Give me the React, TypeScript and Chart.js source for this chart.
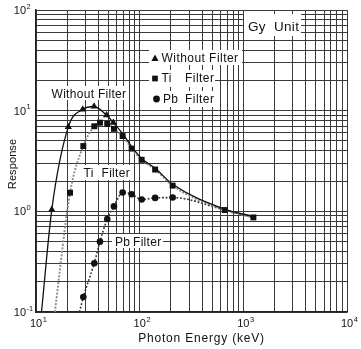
import React, { useEffect, useRef } from "react";
import { Chart, registerables } from "chart.js";

Chart.register(...registerables);

// ---------- data ----------
const seriesNames = ["Without Filter", "Ti Filter", "Pb Filter"];
const unitLabel = "Gy Unit";
const xTitle = "Photon Energy (keV)";
const yTitle = "Response";

const xDecadeExps = [1, 2, 3, 4];
const yDecadeExps = [-1, 0, 1, 2];

// first value of each curve = where the curve leaves the bottom edge (no marker)
const withoutEnergy = [11.3, 14.2, 20.5, 28.2, 36.3, 48.0, 55.7, 68.5, 83.7, 104.5, 141, 208, 662, 1250];
const withoutResponse = [0.1, 1.04, 6.9, 10.3, 11.0, 9.0, 7.6, 5.9, 4.4, 3.35, 2.68, 1.86, 1.05, 0.89];
const withoutMarkerRange = [1, 7];

const tiEnergy = [15.2, 21.3, 28.6, 36.5, 41.4, 48.7, 56.5, 68.5, 83.7, 104.5, 141, 208, 662, 1250];
const tiResponse = [0.1, 1.53, 4.45, 7.0, 7.6, 7.4, 6.6, 5.6, 4.2, 3.25, 2.6, 1.8, 1.03, 0.87];
const tiMarkerRange = [1, 14];

const pbEnergy = [26.3, 28.6, 36.5, 41.4, 48.7, 56.5, 68.5, 83.7, 104.5, 141, 208, 662, 1250];
const pbResponse = [0.1, 0.141, 0.305, 0.5, 0.84, 1.12, 1.54, 1.48, 1.31, 1.36, 1.37, 1.03, 0.87];
const pbMarkerRange = [1, 11];

// ---------- helpers ----------
const FONT = "'Liberation Sans', Arial, Helvetica, sans-serif";

const pts = (xs: number[], ys: number[]) => xs.map((x, i) => ({ x, y: ys[i] }));

const gridValues = (exps: number[]) => {
  const out: number[] = [];
  for (let i = 0; i < exps.length - 1; i++) {
    for (let m = 1; m <= 9; m++) out.push(m * Math.pow(10, exps[i]));
  }
  out.push(Math.pow(10, exps[exps.length - 1]));
  return out;
};

function txt(ctx: any, s: string, x: number, y: number, size: number, spacing = 0, align = "left") {
  ctx.font = `${size}px ${FONT}`;
  ctx.letterSpacing = `${spacing}px`;
  ctx.textAlign = align;
  ctx.textBaseline = "alphabetic";
  ctx.fillText(s, x, y);
  ctx.letterSpacing = "0px";
}

function pow10(ctx: any, exp: number, x: number, y: number, anchor: "center" | "right") {
  ctx.font = `11px ${FONT}`;
  ctx.textAlign = "left";
  ctx.textBaseline = "alphabetic";
  const w = ctx.measureText("10").width;
  const left = anchor === "center" ? x - w / 2 : x - w;
  ctx.fillText("10", left, y);
  ctx.font = `7.5px ${FONT}`;
  ctx.fillText(String(exp), left + w + 0.6, y - 5.5);
}

function marker(ctx: any, kind: string, x: number, y: number, r: number) {
  ctx.beginPath();
  if (kind === "triangle") {
    ctx.moveTo(x, y - r);
    ctx.lineTo(x + r * 0.9, y + r * 0.6);
    ctx.lineTo(x - r * 0.9, y + r * 0.6);
    ctx.closePath();
  } else if (kind === "rect") {
    ctx.rect(x - r * 0.75, y - r * 0.75, r * 1.5, r * 1.5);
  } else {
    ctx.arc(x, y, r * 0.85, 0, Math.PI * 2);
  }
  ctx.fill();
}

const annotations = {
  id: "annotations",
  beforeDatasetsDraw(chart: any) {
    const ctx = chart.ctx;
    ctx.save();
    ctx.fillStyle = "#ffffff";
    // white label backgrounds
    const boxes = [
      [244, 14, 57, 22], // unit
      [149, 50, 93, 15], // legend row 1
      [149, 70, 66, 17], // legend row 2
      [149, 91, 68, 16], // legend row 3
      [49, 86, 79, 14], // without filter label
      [80, 165, 50, 15], // ti label
      [112, 234, 51, 14], // pb label
    ];
    boxes.forEach(([x, y, w, h]) => ctx.fillRect(x, y, w, h));

    ctx.fillStyle = "#111";
    const [u1, u2] = unitLabel.split(" ");
    txt(ctx, u1, 248, 30.5, 13.5, 0.3);
    txt(ctx, u2, 274, 30.5, 13.5, 0.3);

    // legend
    const [w0, w1] = seriesNames[0].split(" ");
    marker(ctx, "triangle", 155, 58.5, 4);
    txt(ctx, w0 + " " + w1, 161.5, 62, 12, 0.45);
    marker(ctx, "rect", 155, 78.5, 3.8);
    txt(ctx, seriesNames[1].split(" ")[0], 161.5, 82, 12, 0.3);
    txt(ctx, seriesNames[1].split(" ")[1], 185, 82, 12, 0.45);
    marker(ctx, "circle", 156.5, 99, 4);
    txt(ctx, seriesNames[2].split(" ")[0], 163, 103, 12, 0.3);
    txt(ctx, seriesNames[2].split(" ")[1], 185, 103, 12, 0.45);

    // curve labels
    txt(ctx, seriesNames[0], 51.5, 97.5, 12, 0.3);
    txt(ctx, seriesNames[1].split(" ")[0], 83.5, 177, 12, 0.3);
    txt(ctx, seriesNames[1].split(" ")[1], 101.5, 177, 12, 0.3);
    txt(ctx, seriesNames[2].split(" ")[0], 115, 245.5, 12, 0.3);
    txt(ctx, seriesNames[2].split(" ")[1], 133, 245.5, 12, 0.3);
    ctx.restore();
  },
  afterDraw(chart: any) {
    const ctx = chart.ctx;
    const xs = chart.scales.x;
    const ys = chart.scales.y;
    ctx.save();
    ctx.fillStyle = "#111";
    xDecadeExps.forEach((e) => pow10(ctx, e, xs.getPixelForValue(Math.pow(10, e)), 327, "center"));
    yDecadeExps.forEach((e) => pow10(ctx, e, 26, ys.getPixelForValue(Math.pow(10, e)) + 4, "right"));
    // axis titles
    txt(ctx, xTitle, 201.5, 341.5, 12, 0.8, "center");
    ctx.translate(16, (chart.chartArea.top + chart.chartArea.bottom) / 2 + 3);
    ctx.rotate(-Math.PI / 2);
    txt(ctx, yTitle, 0, 0, 11, 0.1, "center");
    ctx.restore();
  },
};

export default function App() {
  const ref = useRef<HTMLCanvasElement | null>(null);
  useEffect(() => {
    if (!ref.current) return;
    const line = (label: string, xs: number[], ys: number[], color: string, width: number, dash: number[]) => ({
      label,
      data: pts(xs, ys),
      borderColor: color,
      borderWidth: width,
      borderDash: dash,
      pointRadius: 0,
      fill: false,
      cubicInterpolationMode: "monotone" as const,
      order: 3,
    });
    const marks = (label: string, xs: number[], ys: number[], range: number[], style: string, r: number, order: number) => ({
      label,
      data: pts(xs, ys).slice(range[0], range[1]),
      showLine: false,
      pointStyle: style,
      pointRadius: r,
      pointBackgroundColor: "#111",
      pointBorderColor: "#111",
      pointBorderWidth: 0,
      order,
    });
    const chart = new Chart(ref.current, {
      type: "line",
      data: {
        datasets: [
          line(seriesNames[0], withoutEnergy, withoutResponse, "#111", 1.3, []),
          line(seriesNames[1], tiEnergy, tiResponse, "#8a8a8a", 1.9, [2, 1.5]),
          line(seriesNames[2], pbEnergy, pbResponse, "#333", 1.6, [1.8, 1.8]),
          marks(seriesNames[0], withoutEnergy, withoutResponse, withoutMarkerRange, "triangle", 4.2, 2),
          marks(seriesNames[2], pbEnergy, pbResponse, pbMarkerRange, "circle", 3.3, 1),
          marks(seriesNames[1], tiEnergy, tiResponse, tiMarkerRange, "rect", 4.2, 0),
        ] as any,
      },
      options: {
        animation: false,
        responsive: true,
        maintainAspectRatio: false,
        layout: { padding: { top: 10, right: 14, left: 0, bottom: 0 } },
        plugins: { legend: { display: false }, tooltip: { enabled: false } },
        scales: {
          x: {
            type: "logarithmic",
            min: 10,
            max: 10000,
            ticks: { display: false },
            grid: { color: "#3a3a3a", lineWidth: 1, drawTicks: false },
            border: { color: "#222", width: 1.5 },
            afterBuildTicks: (s: any) => {
              s.ticks = gridValues(xDecadeExps).map((v) => ({ value: v }));
            },
            afterFit: (s: any) => {
              s.height = 37;
            },
          },
          y: {
            type: "logarithmic",
            min: 0.1,
            max: 100,
            ticks: { display: false },
            grid: { color: "#3a3a3a", lineWidth: 1, drawTicks: false },
            border: { color: "#222", width: 1.5 },
            afterBuildTicks: (s: any) => {
              s.ticks = gridValues(yDecadeExps).map((v) => ({ value: v }));
            },
            afterFit: (s: any) => {
              s.width = 36;
            },
          },
        },
      } as any,
      plugins: [annotations],
    });
    return () => chart.destroy();
  }, []);
  return (
    <div style={{ position: "fixed", left: 0, top: 0, width: 361, height: 349, background: "#fff" }}>
      <canvas ref={ref} />
    </div>
  );
}
